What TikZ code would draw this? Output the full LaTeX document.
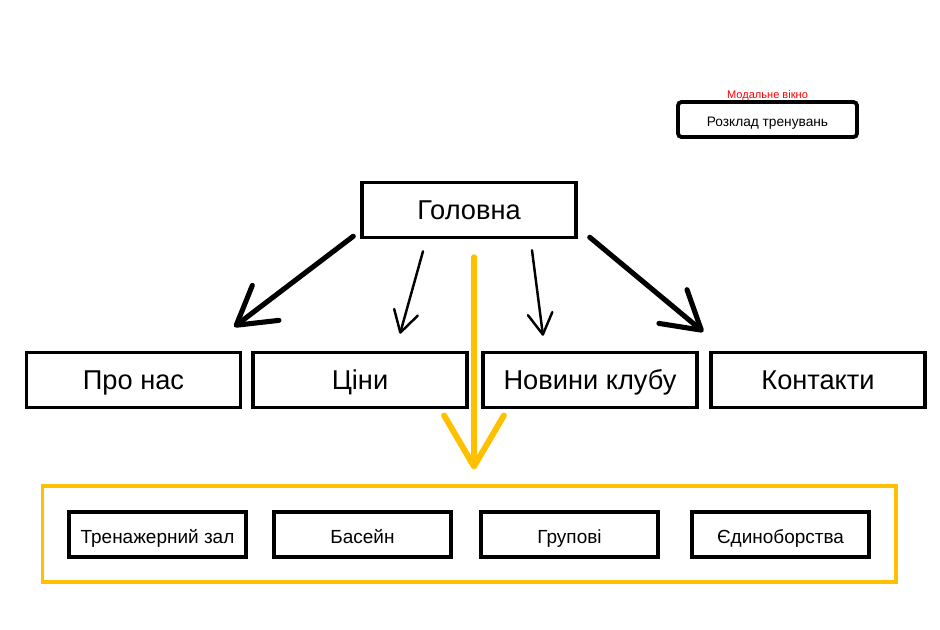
\documentclass[tikz,border=0pt]{standalone}
\usepackage{fontspec}
\setmainfont{Liberation Sans}
\usepackage{tikz}
\usetikzlibrary{arrows.meta,positioning,calc}
\definecolor{siteyel}{RGB}{255,192,0}
\definecolor{modred}{RGB}{255,0,0}
\tikzset{
  pbox/.style={draw=black, line width=2pt, minimum width=4.28cm, minimum height=1.1cm, text height=13.5pt, text depth=3pt, font=\fontsize{15.5}{17}\selectfont},
  sbox/.style={draw=black, line width=2.2pt, minimum width=3.55cm, minimum height=0.9cm, inner sep=2pt, text height=12pt, text depth=2pt, font=\fontsize{10.8}{12}\selectfont},
  mbox/.style={draw=black, line width=2.2pt, rounded corners=2pt, minimum width=3.58cm, minimum height=0.7cm, inner sep=2pt, text height=10pt, text depth=2pt, font=\fontsize{7.8}{9}\selectfont},
  cont/.style={draw=siteyel, line width=1.8pt, minimum width=17.08cm, minimum height=1.92cm},
  bigarr/.style={-{Straight Barb[length=21pt, width=25pt, line cap=round, line join=round]}, line width=2.9pt, line cap=round},
  thinarr/.style={-{Straight Barb[length=12pt, width=14pt, line cap=round, line join=round]}, line width=1.4pt, line cap=round},
  yelarr/.style={-{Straight Barb[length=29pt, width=34pt, line cap=round, line join=round]}, siteyel, line width=3.4pt, line cap=round},
}

\begin{document}
\begin{tikzpicture}[x=0.02cm, y=-0.02cm]
\useasboundingbox (0,0) rectangle (940,629);
% main page and menu
\node[pbox] (glav) at (469,210) {Головна};
\node[pbox] (pro) at (133.5,380) {Про нас};
\node[pbox] (cin) at (360,380) {Ціни};
\node[pbox] (nov) at (590,380) {Новини клубу};
\node[pbox] (kon) at (818,380) {Контакти};
% modal window
\node[mbox] (rozk) at (767.5,119.5) {Розклад тренувань};
\node[font=\fontsize{6.3}{7}\selectfont, text=modred, above=-1.5pt of rozk, inner sep=1pt] (modl) {Модальне вікно};
% sections
\node[cont] (sect) at (469,534) {};
\node[sbox] (trn) at (157.5,534.5) {Тренажерний зал};
\node[sbox] (bas) at (362.5,534.5) {Басейн};
\node[sbox] (grp) at (569.5,534.5) {Групові};
\node[sbox] (edn) at (780.5,534.5) {Єдиноборства};
% arrows
\draw[bigarr] ($(glav.south west)+(-7,-3)$) -- ($(pro.north east)+(-8,-24)$);
\draw[thinarr] ($(glav.south)+(-46,12)$) -- ($(cin.north)+(40,-17)$);
\draw[thinarr] ($(glav.south)+(63,11)$) -- ($(nov.north)+(-47,-15)$);
\draw[bigarr] ($(glav.south east)+(12,-2)$) -- ($(kon.north west)+(-6,-19)$);
\draw[yelarr] ($(glav.south)+(5,18)$) -- ($(sect.north)+(5,-15)$);
\end{tikzpicture}
\end{document}
